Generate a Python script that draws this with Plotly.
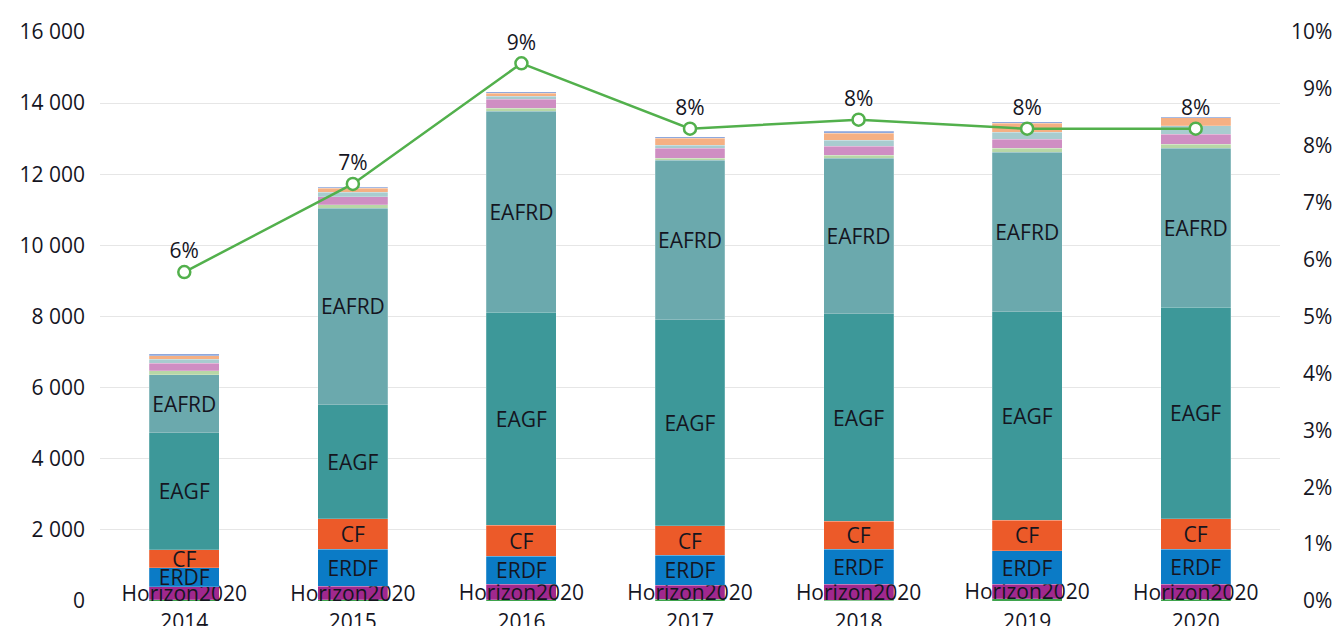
import plotly.graph_objects as go

years = ["2014", "2015", "2016", "2017", "2018", "2019", "2020"]

# EU fund receipts (EUR million), stacked from bottom to top
other_base = [30, 40, 40, 55, 20, 70, 45]
horizon2020 = [375, 380, 430, 385, 450, 400, 430]
erdf = [525, 1030, 795, 840, 985, 940, 985]
cf = [515, 865, 870, 840, 790, 865, 855]
eagf = [3285, 3210, 5990, 5787, 5828, 5865, 5949]
eafrd = [1630, 5526, 5650, 4490, 4382, 4483, 4471]
fund_lightgreen = [110, 85, 85, 56, 84, 112, 112]
fund_pink = [220, 225, 250, 280, 253, 252, 281]
fund_grey = [110, 140, 85, 85, 168, 197, 233]
fund_peach = [100, 100, 85, 196, 200, 253, 225]
fund_blue = [55, 40, 40, 37, 50, 37, 28]

# share (%) on right axis
share_pct = [5.78, 7.33, 9.45, 8.30, 8.46, 8.30, 8.30]

left_ticks = [0, 2000, 4000, 6000, 8000, 10000, 12000, 14000, 16000]
left_ticktext = ["0", "2 000", "4 000", "6 000", "8 000", "10 000", "12 000", "14 000", "16 000"]
right_ticks = [0, 1, 2, 3, 4, 5, 6, 7, 8, 9, 10]
right_ticktext = ["\u20070%", "\u20071%", "\u20072%", "\u20073%", "\u20074%", "\u20075%",
                  "\u20076%", "\u20077%", "\u20078%", "\u20079%", "10%"]

FONT = "Open Sans"
TXT = "#15151f"
FS = 21

series = [
    ("Other", other_base, "#3fa34d", ""),
    ("Horizon2020", horizon2020, "#a0288e", "Horizon2020"),
    ("ERDF", erdf, "#0b7bc6", "ERDF"),
    ("CF", cf, "#ec5a29", "CF"),
    ("EAGF", eagf, "#3d9899", "EAGF"),
    ("EAFRD", eafrd, "#6ba9ad", "EAFRD"),
    ("Fund 7", fund_lightgreen, "#b8d7a6", ""),
    ("Fund 8", fund_pink, "#cf8ec3", ""),
    ("Fund 9", fund_grey, "#a8cccf", ""),
    ("Fund 10", fund_peach, "#f5b083", ""),
    ("Fund 11", fund_blue, "#8fa8dc", ""),
]

fig = go.Figure()
for name, vals, color, label in series:
    fig.add_trace(go.Bar(
        x=years, y=vals, name=name,
        marker=dict(color=color, line=dict(color="rgba(255,255,255,0.35)", width=0.6)),
        text=[label] * len(vals) if label else None,
        textposition="inside" if label else "none",
        insidetextanchor="middle",
        textangle=0,
        textfont=dict(family=FONT, size=FS, color=TXT),
        cliponaxis=False,
        hoverinfo="skip",
    ))

fig.add_trace(go.Scatter(
    x=years, y=share_pct, yaxis="y2", mode="lines+markers+text",
    line=dict(color="#52b04c", width=2.5),
    marker=dict(size=12, color="white", line=dict(color="#52b04c", width=2.5)),
    text=[f"{round(v)}%" for v in share_pct],
    textposition="top center",
    textfont=dict(family=FONT, size=FS, color=TXT),
    cliponaxis=False,
    name="Share",
))

fig.update_layout(
    width=1339, height=626,
    margin=dict(l=100, r=59, t=32, b=25),
    barmode="stack",
    bargap=0.585,
    showlegend=False,
    plot_bgcolor="white",
    paper_bgcolor="white",
    font=dict(family=FONT, size=FS, color=TXT),
    uniformtext=dict(minsize=FS, mode="show"),
    xaxis=dict(
        showgrid=False, showline=False, zeroline=False,
        tickfont=dict(family=FONT, size=FS, color=TXT),
        ticks="", ticklabelstandoff=6, automargin=False,
    ),
    yaxis=dict(
        range=[0, 16000],
        tickvals=left_ticks, ticktext=left_ticktext,
        showgrid=True, gridcolor="#e6e6e6", gridwidth=1,
        zeroline=False, showline=False,
        tickfont=dict(family=FONT, size=FS, color=TXT),
        ticklabelstandoff=14, automargin=False,
    ),
    yaxis2=dict(
        range=[0, 10], overlaying="y", side="right",
        tickvals=right_ticks, ticktext=right_ticktext,
        showgrid=False, zeroline=False, showline=False,
        tickfont=dict(family=FONT, size=FS, color=TXT),
        ticklabelstandoff=10, automargin=False,
    ),
)

fig.write_html("out.html")
